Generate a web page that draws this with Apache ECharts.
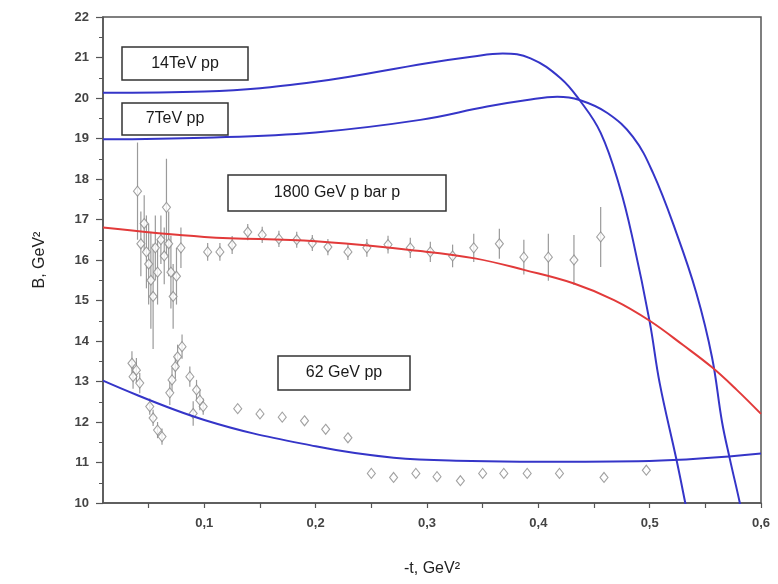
<!DOCTYPE html>
<html>
<head>
<meta charset="utf-8">
<script src="https://cdn.jsdelivr.net/npm/echarts@6/dist/echarts.min.js"></script>
<style>html,body{margin:0;padding:0;background:#fff}#c{width:778px;height:584px}</style>
</head>
<body>
<div id="c"></div>
<script>
// ---- data ----
var xTickLabels = [0.1, 0.2, 0.3, 0.4, 0.5, 0.6];
var xTicks = [0.05, 0.1, 0.15, 0.2, 0.25, 0.3, 0.35, 0.4, 0.45, 0.5, 0.55, 0.6];

// 1800 GeV p bar p data: -t, B, error
var t1800 = [0.040,0.043,0.046,0.048,0.050,0.052,0.054,0.056,0.058,0.061,0.064,0.066,0.068,0.070,0.072,0.075,0.079,
             0.103,0.114,0.125,0.139,0.152,0.167,0.183,0.197,0.211,0.229,0.246,0.265,0.285,0.303,0.323,0.342,0.365,0.387,0.409,0.432,0.456];
var B1800 = [17.7,16.4,16.9,16.2,15.9,15.5,15.1,16.3,15.7,16.5,16.1,17.3,16.4,15.7,15.1,15.6,16.3,
             16.2,16.2,16.37,16.69,16.62,16.52,16.5,16.42,16.32,16.2,16.3,16.38,16.3,16.2,16.1,16.3,16.4,16.07,16.07,16.0,16.57];
var E1800 = [1.2,0.8,0.7,0.9,1.0,1.2,1.3,0.8,0.8,0.6,0.7,1.2,0.8,0.9,0.8,0.7,0.5,
             0.22,0.22,0.22,0.2,0.2,0.2,0.2,0.2,0.2,0.2,0.22,0.22,0.25,0.25,0.28,0.35,0.37,0.43,0.58,0.62,0.74];

// 62 GeV pp data: -t, B, error
var t62 = [0.035,0.036,0.039,0.042,0.051,0.054,0.058,0.062,0.069,0.071,0.074,0.076,0.080,0.087,0.090,0.093,0.096,0.099,
           0.130,0.150,0.170,0.190,0.209,0.229,0.250,0.270,0.290,0.309,0.330,0.350,0.369,0.390,0.419,0.459,0.497];
var B62 = [13.45,13.12,13.28,12.96,12.38,12.1,11.8,11.64,12.72,13.04,13.37,13.61,13.86,13.12,12.21,12.79,12.54,12.38,
           12.33,12.2,12.12,12.03,11.82,11.61,10.73,10.63,10.73,10.65,10.55,10.73,10.73,10.73,10.73,10.63,10.81];
var E62 = [0.3,0.3,0.3,0.25,0.2,0.2,0.2,0.2,0.3,0.3,0.3,0.3,0.3,0.25,0.3,0.25,0.25,0.2,
           0,0,0,0,0,0,0,0,0,0,0,0,0,0,0,0,0];

// model curves
var t14 = [0.009,0.1,0.2,0.3,0.34,0.368,0.393,0.42,0.437,0.456,0.473,0.485,0.5,0.509,0.524,0.532,0.537];
var B14 = [20.13,20.16,20.4,20.86,21.02,21.1,20.98,20.49,19.95,19.14,17.81,16.49,14.48,12.96,11.08,10.0,9.3];
var t7  = [0.009,0.1,0.2,0.294,0.354,0.39,0.417,0.437,0.462,0.485,0.503,0.524,0.542,0.556,0.565,0.572,0.581,0.586];
var B7  = [18.98,19.02,19.15,19.46,19.79,19.95,20.03,19.95,19.63,19.04,18.15,16.67,15.18,13.6,12.0,11.09,10.0,9.3];
var tRed = [0.009,0.1,0.2,0.294,0.343,0.388,0.432,0.468,0.5,0.53,0.556,0.578,0.6];
var BRed = [16.8,16.57,16.46,16.22,16.04,15.75,15.42,15.01,14.5,13.9,13.35,12.8,12.2];
var t62c = [0.009,0.1,0.2,0.27,0.34,0.4,0.5,0.6];
var B62c = [13.02,12.05,11.4,11.12,11.04,11.02,11.04,11.22];

function zip3(a,b,c){return a.map(function(v,i){return [v,b[i],c?c[i]:0];});}
function zip2(a,b){return a.map(function(v,i){return [v,b[i]];});}

var chart = echarts.init(document.getElementById('c'));
var FONT = 'Liberation Sans, Arial, sans-serif';
var axisCol = '#555';
var blue = '#3535c8', red = '#e23a3a';

function errItem(params, api){
  var x = api.value(0), y = api.value(1), e = api.value(2);
  if (!e) return null;
  var p1 = api.coord([x, y + e]), p2 = api.coord([x, y - e]);
  return {type:'line', shape:{x1:p1[0], y1:p1[1], x2:p2[0], y2:p2[1]},
          style:{stroke:'#9a9a9a', lineWidth:1.2}};
}

function box(x, y, w, h, txt){
  return {type:'group', children:[
    {type:'rect', shape:{x:x, y:y, width:w, height:h}, style:{fill:'#fff', stroke:'#333', lineWidth:1.5}, z:10},
    {type:'text', x:x + w/2, y:y + h/2, style:{text:txt, fill:'#1a1a1a', font:'16px ' + FONT, align:'center', verticalAlign:'middle'}, z:11}
  ]};
}

var option = {
  animation:false,
  backgroundColor:'#fff',
  grid:{left:103, right:17, top:17, bottom:81, show:true, borderColor:axisCol, borderWidth:1.5, outerBoundsMode:'none'},
  xAxis:{
    type:'value', min:0.009, max:0.6,
    name:'-t, GeV²', nameLocation:'middle', nameGap:58,
    nameTextStyle:{fontFamily:FONT, fontSize:16, color:'#222'},
    axisLine:{show:true, lineStyle:{color:axisCol, width:1.5}},
    axisTick:{show:true, customValues:xTicks, length:5, lineStyle:{color:axisCol, width:1.2}},
    axisLabel:{customValues:xTickLabels, margin:14, fontFamily:FONT, fontSize:13, fontWeight:'bold', color:'#444',
               formatter:function(v){return v.toFixed(1).replace('.', ',');}},
    splitLine:{show:false}
  },
  yAxis:{
    type:'value', min:10, max:22, interval:1,
    name:'B, GeV²', nameLocation:'middle', nameGap:55, nameRotate:90,
    nameTextStyle:{fontFamily:FONT, fontSize:16, color:'#222'},
    axisLine:{show:true, lineStyle:{color:axisCol, width:1.5}},
    axisTick:{show:true, length:7, lineStyle:{color:axisCol, width:1.2}},
    minorTick:{show:true, splitNumber:2, length:4, lineStyle:{color:axisCol, width:1}},
    axisLabel:{margin:14, fontFamily:FONT, fontSize:13, fontWeight:'bold', color:'#444'},
    splitLine:{show:false}
  },
  series:[
    {type:'custom', name:'err1800', renderItem:errItem, data:zip3(t1800,B1800,E1800), z:2, silent:true},
    {type:'custom', name:'err62', renderItem:errItem, data:zip3(t62,B62,E62), z:2, silent:true},
    {type:'scatter', name:'1800', data:zip2(t1800,B1800), symbol:'diamond', symbolSize:[8,10],
     itemStyle:{color:'#fff', borderColor:'#8a8a8a', borderWidth:1.1}, z:3},
    {type:'scatter', name:'62', data:zip2(t62,B62), symbol:'diamond', symbolSize:[8,10],
     itemStyle:{color:'#fff', borderColor:'#8a8a8a', borderWidth:1.1}, z:3},
    {type:'line', name:'14TeV', data:zip2(t14,B14), smooth:0.4, showSymbol:false,
     lineStyle:{color:blue, width:2}, z:4},
    {type:'line', name:'7TeV', data:zip2(t7,B7), smooth:0.4, showSymbol:false,
     lineStyle:{color:blue, width:2}, z:4},
    {type:'line', name:'1800fit', data:zip2(tRed,BRed), smooth:0.4, showSymbol:false,
     lineStyle:{color:red, width:2}, z:4},
    {type:'line', name:'62fit', data:zip2(t62c,B62c), smooth:0.4, showSymbol:false,
     lineStyle:{color:blue, width:2}, z:4}
  ],
  graphic:[
    box(122, 47, 126, 33, '14TeV pp'),
    box(122, 103, 106, 32, '7TeV pp'),
    box(228, 175, 218, 36, '1800 GeV p bar p'),
    box(278, 356, 132, 34, '62 GeV pp')
  ]
};
chart.setOption(option);
</script>
</body>
</html>
